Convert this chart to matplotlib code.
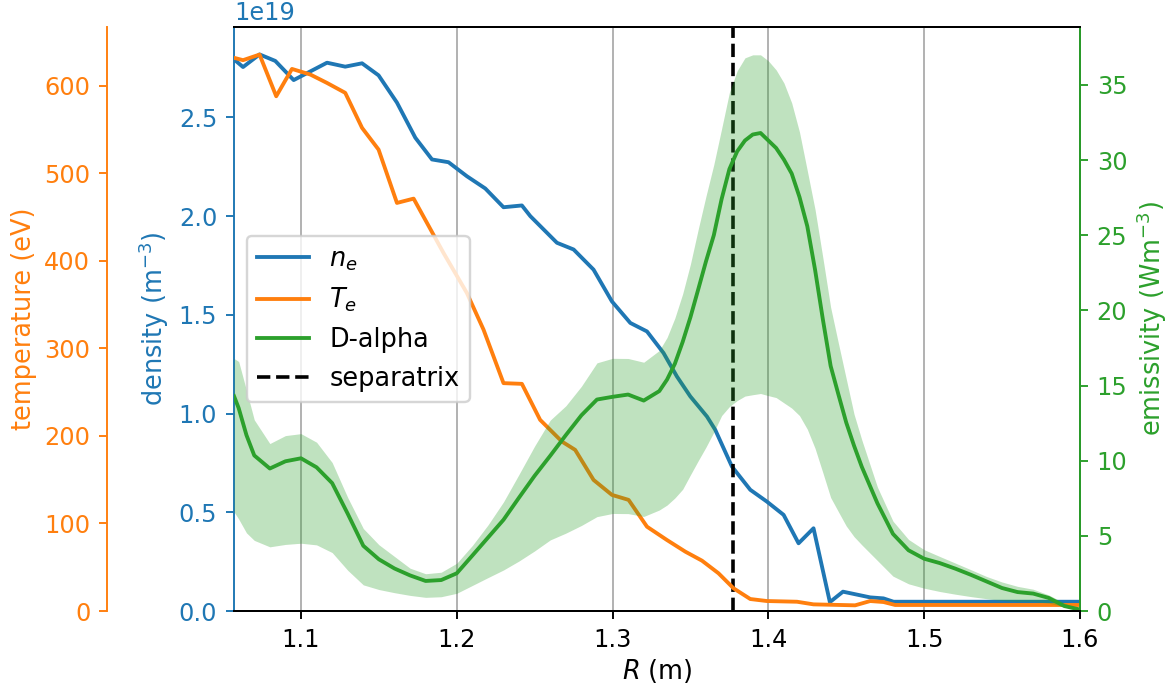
import numpy as np
import matplotlib
matplotlib.use('Agg')
import matplotlib.pyplot as plt

plt.rcParams['font.size'] = 10.7
plt.rcParams['xtick.labelsize'] = 10
plt.rcParams['ytick.labelsize'] = 10
plt.rcParams['lines.linewidth'] = 1.6

# ===== 剖面数据 =====
# 电子密度 (单位 1e19 m^-3)
R_ne = [1.057, 1.0628, 1.0734, 1.0835, 1.0953, 1.1167, 1.1284, 1.1392, 1.1498, 1.1616,
        1.1734, 1.1841, 1.1947, 1.2065, 1.2183, 1.2300, 1.2418, 1.2472, 1.2643, 1.2750,
        1.2878, 1.2996, 1.3114, 1.3221, 1.3327, 1.3413, 1.3499, 1.3606, 1.3659, 1.3766,
        1.3884, 1.3991, 1.4098, 1.4194, 1.4290, 1.4395, 1.4479, 1.4654, 1.4739, 1.4804, 1.6]
ne = [2.794, 2.755, 2.819, 2.786, 2.689, 2.777, 2.757, 2.774, 2.713, 2.575,
      2.397, 2.287, 2.273, 2.202, 2.140, 2.045, 2.054, 2.000, 1.865, 1.831,
      1.729, 1.568, 1.459, 1.416, 1.307, 1.188, 1.087, 0.985, 0.918, 0.732,
      0.614, 0.554, 0.487, 0.343, 0.419, 0.045, 0.098, 0.069, 0.064, 0.047, 0.047]

# 电子温度 (eV)
R_te = [1.057, 1.0628, 1.0734, 1.0841, 1.0942, 1.1060, 1.1167, 1.1284, 1.1392, 1.1498,
        1.1616, 1.1723, 1.1915, 1.2065, 1.2172, 1.2300, 1.2418, 1.2535, 1.2675, 1.2760,
        1.2878, 1.2996, 1.3103, 1.3221, 1.3349, 1.3467, 1.3574, 1.3680, 1.3777, 1.3884,
        1.3991, 1.4184, 1.4290, 1.4557, 1.4654, 1.4739, 1.4814, 1.6]
te = [631.7, 629.0, 635.4, 587.8, 619.0, 612.6, 603.0, 591.7, 551.7, 526.9,
      466.0, 470.9, 408.8, 363.1, 321.2, 260.2, 259.4, 218.3, 193.5, 184.0,
      149.7, 132.6, 126.9, 96.3, 81.1, 67.8, 57.5, 43.1, 25.9, 13.7,
      11.4, 10.6, 7.6, 6.5, 11.4, 10.3, 6.9, 6.9]

# D-alpha 发射率 (W m^-3)，中值和上下包络
R_em = [1.057, 1.06, 1.065, 1.07, 1.08, 1.09, 1.10, 1.11, 1.12, 1.13,
        1.14, 1.15, 1.16, 1.17, 1.18, 1.19, 1.20, 1.21, 1.22, 1.23,
        1.24, 1.25, 1.26, 1.27, 1.28, 1.29, 1.30, 1.31, 1.32, 1.33,
        1.335, 1.34, 1.345, 1.35, 1.355, 1.36, 1.365, 1.37, 1.375, 1.38,
        1.385, 1.39, 1.395, 1.40, 1.405, 1.41, 1.415, 1.42, 1.425, 1.43,
        1.435, 1.44, 1.445, 1.45, 1.455, 1.46, 1.47, 1.48, 1.49, 1.50,
        1.51, 1.52, 1.53, 1.54, 1.55, 1.56, 1.57, 1.58, 1.59, 1.60]
em = [14.3, 13.5, 11.7, 10.35, 9.48, 9.96, 10.16, 9.56, 8.51, 6.47,
      4.34, 3.44, 2.83, 2.37, 2.00, 2.06, 2.51, 3.69, 4.88, 6.07,
      7.55, 9.00, 10.33, 11.7, 13.02, 14.07, 14.25, 14.4, 14.0, 14.63,
      15.4, 16.45, 17.9, 19.55, 21.4, 23.27, 25.0, 27.4, 29.4, 30.58,
      31.3, 31.7, 31.8, 31.3, 30.8, 30.03, 29.1, 27.54, 25.6, 22.7,
      19.4, 16.3, 14.4, 12.54, 11.0, 9.59, 7.17, 5.13, 4.04, 3.48,
      3.19, 2.82, 2.41, 1.97, 1.53, 1.26, 1.16, 0.87, 0.33, 0.10]
em_hi = [16.8, 16.6, 14.68, 12.72, 11.14, 11.67, 11.8, 11.23, 9.88, 7.55,
         5.49, 4.41, 3.63, 2.85, 2.48, 2.58, 3.18, 4.36, 5.72, 7.26,
         9.1, 10.98, 12.7, 13.65, 14.95, 16.51, 16.81, 16.8, 16.55, 17.33,
         18.2, 19.49, 21.1, 23.08, 25.4, 27.61, 29.7, 32.08, 34.5, 35.94,
         36.8, 37.0, 37.0, 36.6, 36.0, 35.13, 33.8, 31.86, 29.3, 26.7,
         23.5, 20.2, 17.8, 15.45, 13.1, 11.38, 8.25, 5.98, 4.76, 4.08,
         3.63, 3.19, 2.75, 2.3, 1.93, 1.64, 1.45, 1.07, 0.53, 0.15]
em_lo = [6.6, 6.12, 5.2, 4.7, 4.27, 4.43, 4.51, 4.4, 3.89, 2.71,
         1.74, 1.43, 1.22, 1.04, 0.91, 0.95, 1.18, 1.7, 2.22, 2.73,
         3.33, 4.0, 4.73, 5.18, 5.69, 6.28, 6.49, 6.48, 6.29, 6.72,
         7.05, 7.52, 8.1, 9.06, 10.0, 10.91, 11.9, 13.0, 13.6, 14.0,
         14.3, 14.39, 14.47, 14.33, 14.2, 13.85, 13.5, 13.0, 12.1, 10.82,
         9.2, 7.55, 6.6, 5.66, 4.95, 4.4, 3.36, 2.32, 1.81, 1.52,
         1.3, 1.12, 0.96, 0.82, 0.7, 0.62, 0.62, 0.53, 0.28, 0.0]

R_sep = 1.377

c_ne, c_te, c_em = 'tab:blue', 'tab:orange', 'tab:green'

dpi = 173
fig, ax = plt.subplots(figsize=(1170 / dpi, 686 / dpi), dpi=dpi)
fig.subplots_adjust(left=0.2, right=0.923, top=0.9606, bottom=0.1093)

ax_te = ax.twinx()
ax_em = ax.twinx()

# ===== 密度 =====
l_ne, = ax.plot(R_ne, np.array(ne) * 1e19, color=c_ne, label='$n_e$')
l_sep = ax.axvline(R_sep, color='k', ls='--', lw=1.5, label='separatrix')
ax.set_xlim(R_em[0], R_em[-1])
ax.set_ylim(bottom=0)
ax.set_xlabel('$R$ (m)', labelpad=2)
ax.set_ylabel('density (m$^{-3}$)', color=c_ne, labelpad=3)
ax.tick_params(axis='y', colors=c_ne)
ax.yaxis.get_offset_text().set_color(c_ne)
ax.spines['left'].set_color(c_ne)
ax.grid(axis='x')

# ===== 温度，左侧外移的坐标轴 =====
l_te, = ax_te.plot(R_te, te, color=c_te, label='$T_e$')
ax_te.set_ylim(bottom=0)
ax_te.yaxis.set_label_position('left')
ax_te.yaxis.set_ticks_position('left')
ax_te.spines['left'].set_position(('axes', -0.15))
ax_te.spines['left'].set_visible(True)
ax_te.spines['left'].set_color(c_te)
for s in ['right', 'top', 'bottom']:
    ax_te.spines[s].set_visible(False)
ax_te.set_ylabel('temperature (eV)', color=c_te, labelpad=3)
ax_te.tick_params(axis='y', colors=c_te)

# ===== 发射率 =====
ax_em.fill_between(R_em, em_lo, em_hi, color=c_em, alpha=0.3, lw=0)
l_em, = ax_em.plot(R_em, em, color=c_em, label='D-alpha')
ax_em.set_ylim(bottom=0)
ax_em.set_ylabel('emissivity (Wm$^{-3}$)', color=c_em, labelpad=3)
ax_em.tick_params(axis='y', colors=c_em)
ax_em.spines['right'].set_color(c_em)
ax_em.spines['left'].set_visible(False)

ax_em.legend(handles=[l_ne, l_te, l_em, l_sep], loc='center left')

fig.savefig('out.png', dpi=dpi)
